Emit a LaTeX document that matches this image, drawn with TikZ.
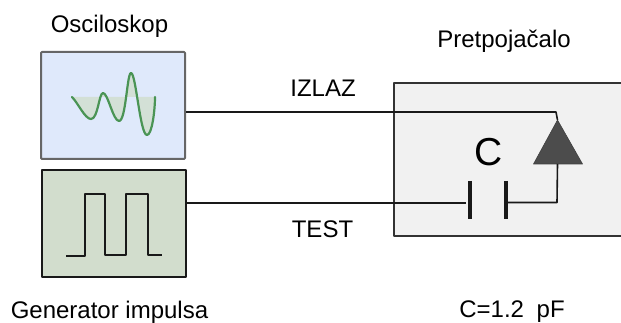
\documentclass[tikz,border=0pt]{standalone}
\usepackage{fontspec}
\setmainfont{Liberation Sans}
\usetikzlibrary{positioning}
\definecolor{oscfill}{HTML}{DFE9FB}
\definecolor{genfill}{HTML}{D2DDCD}
\definecolor{preampfill}{HTML}{F1F1F1}
\definecolor{trace}{HTML}{4A9455}
\definecolor{traceshade}{HTML}{D3E0D6}
\tikzset{
  lbl/.style={font=\fontsize{24pt}{26pt}\selectfont, inner sep=0pt, anchor=base},
  wire/.style={line width=1.6pt, black!90},
  plate/.style={line width=3.2pt, black!90}
}
\begin{document}
\begin{tikzpicture}[x=1pt, y=-1pt, line join=round]
    \useasboundingbox (0,0) rectangle (621,323);
    % boxes
    \node[draw=black!60, fill=oscfill, line width=2pt, rounded corners=1pt, minimum width=144pt, minimum height=107pt, inner sep=0pt] (osc) at (113,105.5) {};
    \node[draw=black!90, fill=genfill, line width=2pt, minimum width=144pt, minimum height=107pt, inner sep=0pt] (gen) at (114,223.5) {};
    \node[draw=black!80, fill=preampfill, line width=1.5pt, minimum width=236pt, minimum height=153pt, inner sep=0pt] (pre) at (512,159.5) {};

    % labels
    \node[lbl] (osclbl) at (109.5,33) {Osciloskop};
    \node[lbl] (genlbl) at (109.5,318) {Generator impulsa};
    \node[lbl] (prelbl) at (504,48) {Pretpojačalo};
    \node[lbl] (vallbl) at (512,317) {C=1.2\hspace{6pt} pF};
    \node[lbl] (izlaz) at (323,97) {IZLAZ};
    \node[lbl] (testlbl) at (322.5,237) {TEST};
    \node[lbl, font=\fontsize{39pt}{42pt}\selectfont] (clbl) at (488.5,166) {C};

    % oscilloscope trace
    \fill[traceshade] (72,97) .. controls (78,103) and (85,119) .. (91,119) .. controls (98,119) and (99,93) .. (103,93) .. controls (108,93) and (113,121) .. (119,121) .. controls (126,121) and (127,73) .. (131,73) .. controls (136,73) and (140,135) .. (147,135) .. controls (152,135) and (155,110) .. (155,97) -- cycle;
    \draw[trace, line width=2.2pt, line cap=round] (72,97) .. controls (78,103) and (85,119) .. (91,119) .. controls (98,119) and (99,93) .. (103,93) .. controls (108,93) and (113,121) .. (119,121) .. controls (126,121) and (127,73) .. (131,73) .. controls (136,73) and (140,135) .. (147,135) .. controls (152,135) and (155,110) .. (155,97);

    % pulses
    \draw[line width=2pt, black!90] (66,256) -- (85,256) -- (85,194) -- (105,194) -- (105,254.5) -- (126,254.5) -- (126,194) -- (148,194) -- (148,255) -- (162,255);

    % capacitor and amplifier
    \coordinate (plateL) at (470,200);
    \coordinate (plateR) at (506,200);
    \draw[plate] (plateL |- 0,181) -- (plateL |- 0,219);
    \draw[plate] (plateR |- 0,181) -- (plateR |- 0,219);
    \fill[black!70, draw=black!75, line width=.6pt] (557.5,120) -- (533.5,164) -- (582.5,164) -- cycle;
    \coordinate (ampTop) at (557.5,120);
    \coordinate (ampBase) at (557.5,164);

    % wires
    \draw[wire] (osc.east |- 0,112) -- (556,112) -- (ampTop);
    \draw[wire] (gen.east |- 0,203) -- (466,203);
    \draw[wire] (507.5,202.5) -- (557,202.5) -- (ampBase);
\end{tikzpicture}
\end{document}
